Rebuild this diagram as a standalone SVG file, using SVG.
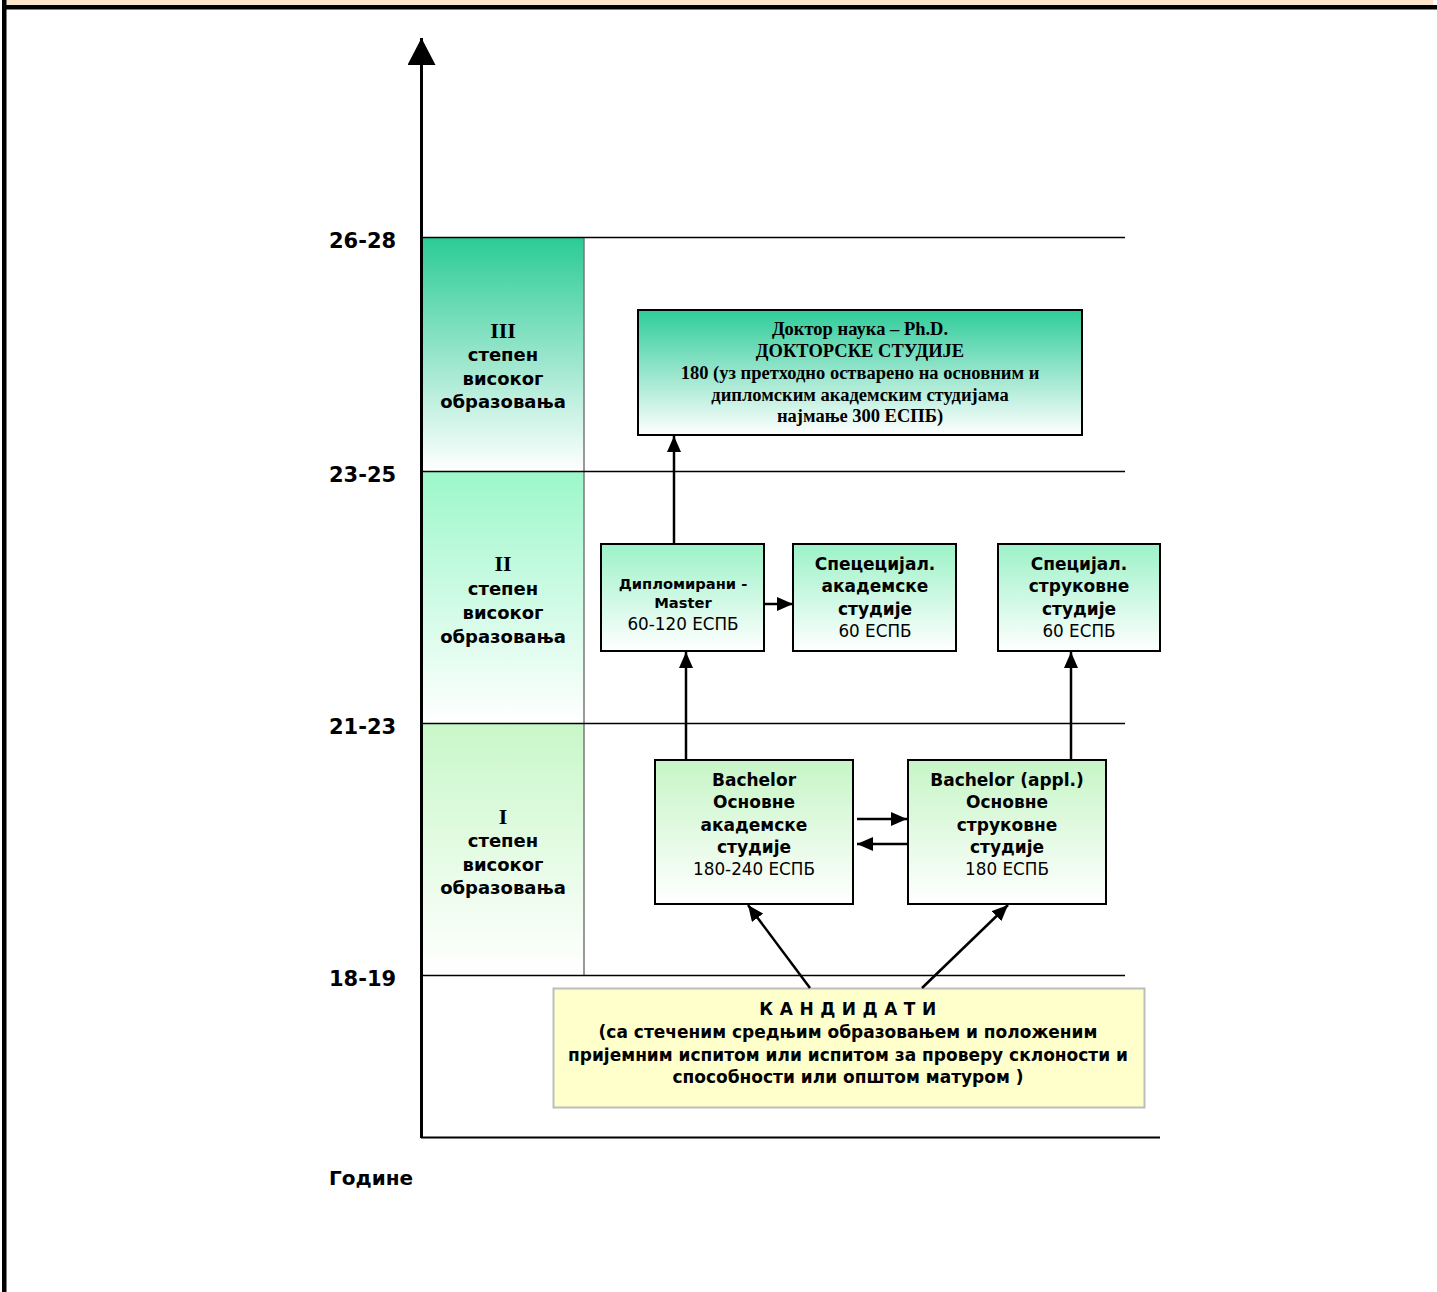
<svg xmlns="http://www.w3.org/2000/svg" width="1437" height="1292" viewBox="0 0 1437 1292">
<defs>
<linearGradient id="gIII" x1="0" y1="0" x2="0" y2="1"><stop offset="0" stop-color="#2BCB96"/><stop offset="1" stop-color="#FFFFFF"/></linearGradient>
<linearGradient id="gII" x1="0" y1="0" x2="0" y2="1"><stop offset="0" stop-color="#9CF7CA"/><stop offset="1" stop-color="#FFFFFF"/></linearGradient>
<linearGradient id="gI" x1="0" y1="0" x2="0" y2="1"><stop offset="0" stop-color="#C8F7C8"/><stop offset="1" stop-color="#FFFFFF"/></linearGradient>
<linearGradient id="gDoc" x1="0" y1="0" x2="0" y2="1"><stop offset="0" stop-color="#2ECC99"/><stop offset="1" stop-color="#FFFFFF"/></linearGradient>
<linearGradient id="gMas" x1="0" y1="0" x2="0" y2="1"><stop offset="0" stop-color="#9CF2C8"/><stop offset="1" stop-color="#FFFFFF"/></linearGradient>
<linearGradient id="gBac" x1="0" y1="0" x2="0" y2="1"><stop offset="0" stop-color="#C6F5C6"/><stop offset="1" stop-color="#FFFFFF"/></linearGradient>
<marker id="ah" viewBox="0 0 16 14" refX="16" refY="7" markerWidth="16" markerHeight="14" orient="auto" markerUnits="userSpaceOnUse"><path d="M0,0 L16,7 L0,14 z" fill="#000"/></marker>
<marker id="ahBig" viewBox="0 0 27 28" refX="27" refY="14" markerWidth="27" markerHeight="28" orient="auto" markerUnits="userSpaceOnUse"><path d="M0,0 L27,14 L0,28 z" fill="#000"/></marker>
<style>
.yr{font-family:"DejaVu Sans","Noto Sans",sans-serif;font-weight:bold;font-size:21px;fill:#000}
.god{font-family:"DejaVu Sans","Noto Sans",sans-serif;font-weight:bold;font-size:20px;fill:#000}
.lvl{font-family:"DejaVu Sans","Noto Sans",sans-serif;font-weight:bold;font-size:18px;fill:#000;text-anchor:middle}
.rom{font-family:"Liberation Serif",serif;font-weight:bold;font-size:22px;fill:#000;text-anchor:middle}
.b{font-family:"DejaVu Sans","Noto Sans",sans-serif;font-weight:bold;font-size:17px;fill:#000;text-anchor:middle}
.bs{font-family:"DejaVu Sans","Noto Sans",sans-serif;font-weight:bold;font-size:14.7px;fill:#000;text-anchor:middle}
.r{font-family:"DejaVu Sans","Noto Sans",sans-serif;font-size:16.8px;fill:#000;text-anchor:middle}
.ser{font-family:"Liberation Serif",serif;font-weight:bold;font-size:18.5px;fill:#000;text-anchor:middle}
.box{stroke:#000;stroke-width:2}
.grid{stroke:#000;stroke-width:1.5;fill:none}
.con{stroke:#000;stroke-width:2.5;fill:none;marker-end:url(#ah)}
</style>
</defs>
<rect x="0" y="0" width="1437" height="1292" fill="#FFFFFF"/>
<g id="frame">
<rect x="6" y="0" width="1427" height="6" fill="#FDE5CC"/>
<rect x="2" y="5" width="1435" height="4.5" fill="#000"/>
<rect x="2" y="0" width="4.5" height="1292" fill="#000"/>
</g>
<g id="levels">
<rect x="422" y="237" width="162" height="234" fill="url(#gIII)"/>
<rect x="422" y="471" width="162" height="252" fill="url(#gII)"/>
<rect x="422" y="723" width="162" height="252" fill="url(#gI)"/>
<line x1="584" y1="237" x2="584" y2="975" stroke="#777" stroke-width="1.5"/>
<line class="grid" x1="421" y1="237.5" x2="1125" y2="237.5"/>
<line class="grid" x1="421" y1="471.5" x2="1125" y2="471.5"/>
<line class="grid" x1="421" y1="723.5" x2="1125" y2="723.5"/>
<line class="grid" x1="421" y1="975.5" x2="1125" y2="975.5"/>
<line x1="421" y1="1137.5" x2="1160" y2="1137.5" stroke="#000" stroke-width="2"/>
<line x1="421.5" y1="1138" x2="421.5" y2="38" stroke="#000" stroke-width="3" marker-end="url(#ahBig)"/>
<text class="yr" x="329" y="248">26-28</text>
<text class="yr" x="329" y="482">23-25</text>
<text class="yr" x="329" y="734">21-23</text>
<text class="yr" x="329" y="986">18-19</text>
<text class="god" x="329" y="1185">Године</text>
<text class="rom" x="503" y="338">III</text>
<text class="lvl" x="503" y="361">степен</text>
<text class="lvl" x="503" y="385">високог</text>
<text class="lvl" x="503" y="408">образовања</text>
<text class="rom" x="503" y="571">II</text>
<text class="lvl" x="503" y="595">степен</text>
<text class="lvl" x="503" y="619">високог</text>
<text class="lvl" x="503" y="643">образовања</text>
<text class="rom" x="503" y="824">I</text>
<text class="lvl" x="503" y="847">степен</text>
<text class="lvl" x="503" y="871">високог</text>
<text class="lvl" x="503" y="894">образовања</text>
</g>
<g id="doctor">
<rect class="box" x="638" y="310" width="444" height="125" fill="url(#gDoc)"/>
<text class="ser" x="860" y="335">Доктор наука – Ph.D.</text>
<text class="ser" x="860" y="357">ДОКТОРСКЕ СТУДИЈЕ</text>
<text class="ser" x="860" y="379">180 (уз претходно остварено на основним и</text>
<text class="ser" x="860" y="401">дипломским академским студијама</text>
<text class="ser" x="860" y="422">најмање 300 ЕСПБ)</text>
</g>
<g id="master">
<rect class="box" x="601" y="544" width="163" height="107" fill="url(#gMas)"/>
<text class="bs" x="683" y="589">Дипломирани -</text>
<text class="bs" x="683" y="608">Master</text>
<text class="r" x="683" y="630">60-120 ЕСПБ</text>
</g>
<g id="spec-academic">
<rect class="box" x="793" y="544" width="163" height="107" fill="url(#gMas)"/>
<text class="b" x="875" y="570">Спецецијал.</text>
<text class="b" x="875" y="592">академске</text>
<text class="b" x="875" y="615">студије</text>
<text class="r" x="875" y="637">60 ЕСПБ</text>
</g>
<g id="spec-professional">
<rect class="box" x="998" y="544" width="162" height="107" fill="url(#gMas)"/>
<text class="b" x="1079" y="570">Специјал.</text>
<text class="b" x="1079" y="592">струковне</text>
<text class="b" x="1079" y="615">студије</text>
<text class="r" x="1079" y="637">60 ЕСПБ</text>
</g>
<g id="bachelor">
<rect class="box" x="655" y="760" width="198" height="144" fill="url(#gBac)"/>
<text class="b" x="754" y="786">Bachelor</text>
<text class="b" x="754" y="808">Основне</text>
<text class="b" x="754" y="831">академске</text>
<text class="b" x="754" y="853">студије</text>
<text class="r" x="754" y="875">180-240 ЕСПБ</text>
</g>
<g id="bachelor-appl">
<rect class="box" x="908" y="760" width="198" height="144" fill="url(#gBac)"/>
<text class="b" x="1007" y="786">Bachelor (appl.)</text>
<text class="b" x="1007" y="808">Основне</text>
<text class="b" x="1007" y="831">струковне</text>
<text class="b" x="1007" y="853">студије</text>
<text class="r" x="1007" y="875">180 ЕСПБ</text>
</g>
<g id="kandidati">
<rect x="553.5" y="988.5" width="591" height="119" fill="#FFFFCC" stroke="#BDBDBD" stroke-width="2"/>
<text class="b" x="851" y="1015" letter-spacing="6.5">КАНДИДАТИ</text>
<text class="b" x="848" y="1038">(са стеченим средњим образовањем и положеним</text>
<text class="b" x="848" y="1061">пријемним испитом или испитом за проверу склоности и</text>
<text class="b" x="848" y="1083">способности или општом матуром )</text>
</g>
<g id="connectors">
<line class="con" x1="674" y1="544" x2="674" y2="436"/>
<line class="con" x1="686" y1="760" x2="686" y2="652"/>
<line class="con" x1="1071" y1="760" x2="1071" y2="652"/>
<line class="con" x1="764" y1="604" x2="793" y2="604"/>
<line class="con" x1="857" y1="819" x2="907" y2="819"/>
<line class="con" x1="908" y1="844" x2="857" y2="844"/>
<line class="con" x1="810" y1="988" x2="748" y2="905"/>
<line class="con" x1="922" y1="988" x2="1008" y2="905"/>
</g>
</svg>
